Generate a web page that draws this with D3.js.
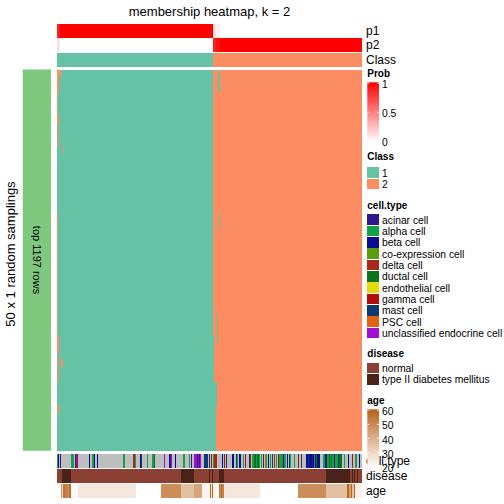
<!DOCTYPE html>
<html><head><meta charset="utf-8">
<script src="https://cdn.jsdelivr.net/npm/d3@7"></script>
<style>body{margin:0;background:#fff} text{font-family:"Liberation Sans",Arial,Helvetica,sans-serif;fill:#000}</style>
</head><body><svg id="c" width="504" height="504"></svg>
<script>
// ---------------- data ----------------
const nSamples = 305;
const nRuns = 50;
const classes = ["1", "2"];
const classColors = ["#66C2A5", "#FC8D62"];
// [startColumn, class]
const classSegments = [[0, 1], [156, 2]];
// [startColumn, probability of class 1]; p2 = 1 - p1
const p1Segments = [[0, 0.86], [2, 0.94], [3, 1], [156, 0.12], [159, 0.06], [163, 0]];
// [rowStart, rowEnd, colStart, colEnd, class] where a sampling disagrees
const membershipExceptions = [
  [0, 2, 0, 1, 2], [0, 0, 2, 3, 2], [3, 6, 0, 0, 2], [6, 8, 1, 1, 2], [9, 9, 2, 2, 2],
  [10, 10, 6, 6, 2], [19, 34, 0, 0, 2], [35, 36, 0, 1, 2], [37, 40, 1, 1, 2],
  [38, 38, 4, 5, 2], [44, 44, 0, 1, 2],
  [0, 2, 161, 162, 1], [19, 20, 162, 162, 1], [32, 35, 160, 160, 1],
  [35, 49, 156, 156, 1], [41, 43, 157, 159, 1], [43, 46, 157, 158, 1], [47, 49, 157, 158, 1]
];
const cellTypes = ["acinar cell", "alpha cell", "beta cell", "co-expression cell", "delta cell",
  "ductal cell", "endothelial cell", "gamma cell", "mast cell", "PSC cell", "unclassified endocrine cell"];
const cellTypeColors = ["#32168C", "#12A048", "#0C0C92", "#5A9C10", "#A8261A",
  "#0C7318", "#E6DA0C", "#B20E0E", "#0E3A70", "#E2620F", "#A010D0"];
const naColor = "#BEBEBE";
// [startColumn, cell type index or null]
const cellTypeSegments = [
  [0,1],[1,2],[2,null],[3,0],[4,null],[14,1],[17,null],[18,0],[19,10],[20,7],[21,null],
  [32,2],[33,null],[35,1],[37,2],[38,null],[40,2],[41,null],[66,1],[68,null],[76,4],[78,1],
  [79,null],[83,2],[84,8],[85,null],[90,1],[91,null],[95,1],[97,5],[98,null],[107,10],
  [108,null],[112,0],[114,10],[115,null],[118,2],[119,null],[126,1],[128,null],[132,1],
  [133,null],[134,0],[135,null],[137,10],[140,0],[141,10],[142,0],[143,10],[144,null],
  [147,8],[151,null],[152,8],[153,null],[154,7],[155,null],[156,1],[157,4],[160,null],
  [165,2],[166,null],[167,7],[168,null],[169,8],[170,null],[175,2],[177,null],[179,8],
  [180,1],[181,null],[182,2],[184,null],[186,1],[187,null],[188,7],[189,null],[192,8],
  [193,7],[194,null],[195,1],[197,5],[199,1],[200,5],[202,1],[203,null],[204,1],[205,null],
  [206,8],[207,null],[208,9],[209,1],[210,null],[211,2],[212,null],[213,1],[214,null],
  [215,8],[216,null],[217,4],[218,null],[219,1],[220,null],[221,7],[222,1],[226,2],[227,1],
  [229,null],[230,2],[231,null],[232,8],[233,1],[234,null],[237,1],[238,null],[241,7],
  [242,null],[244,8],[245,null],[249,2],[251,8],[252,2],[255,0],[256,2],[257,1],[258,2],
  [259,5],[260,2],[263,null],[266,1],[268,2],[270,1],[272,5],[273,1],[274,5],[275,1],
  [277,2],[278,1],[281,8],[282,5],[285,null],[287,1],[288,null],[291,2],[292,null],
  [295,7],[296,null],[298,1],[300,null],[302,2],[303,null]
];
const diseases = ["normal", "type II diabetes mellitus"];
const diseaseColors = ["#8B4033", "#4A2318"];
const diseaseSegments = [[0,0],[5,1],[14,0],[124,1],[137,0],[152,1],[153,0],[155,1],[156,0],
  [162,1],[167,0],[269,1],[293,0],[295,1],[296,0],[297,1],[298,0],[300,1],[301,0]];
// [startColumn, age]
const ageSegments = [[0,20],[4,47],[5,30],[6,55],[8,52],[11,47],[12,57],[14,21],[21,26],
  [79,20],[104,49],[124,36],[137,43],[145,23],[153,60],[154,23],[155,60],[156,23],[159,20],
  [162,56],[163,48],[164,58],[165,52],[167,26],[203,20],[241,49],[269,36],[290,59],[292,45],
  [294,60],[295,35],[297,60],[298,24]];
const ageTicks = [20, 30, 40, 50, 60];
const probTicks = [0, 0.5, 1];

// ---------------- helpers ----------------
function expand(segs, n) {
  const out = new Array(n);
  for (let i = 0; i < segs.length; i++) {
    const s = segs[i][0], e = i + 1 < segs.length ? segs[i + 1][0] : n;
    for (let j = s; j < e; j++) out[j] = segs[i][1];
  }
  return out;
}
function runs(values) {
  const r = [];
  let s = 0;
  for (let i = 1; i <= values.length; i++) {
    if (i === values.length || values[i] !== values[s]) { r.push({ s, e: i - 1, v: values[s] }); s = i; }
  }
  return r;
}

const svg = d3.select("#c");
const x = d3.scaleBand().domain(d3.range(nSamples)).range([57, 362]).padding(0);
const y = d3.scaleBand().domain(d3.range(nRuns)).range([69.5, 450.7]).padding(0);

function drawTrack(values, y0, h, color) {
  svg.append("g").selectAll("rect").data(runs(values)).join("rect")
    .attr("x", d => x(d.s)).attr("width", d => x(d.e) + x.bandwidth() - x(d.s))
    .attr("y", y0).attr("height", h)
    .attr("fill", d => color(d.v)).attr("shape-rendering", "crispEdges");
}

const probColor = d3.scaleLinear().domain([0, 1]).range(["#FFFFFF", "#FF0000"]);
const ageColor = d3.scaleLinear().domain([20, 60]).range(["#FFFFFF", "#B8621A"]);
const classColor = c => classColors[c - 1];

const colClass = expand(classSegments, nSamples);
const p1 = expand(p1Segments, nSamples);
const p2 = p1.map(v => 1 - v);
const cellType = expand(cellTypeSegments, nSamples);
const disease = expand(diseaseSegments, nSamples);
const age = expand(ageSegments, nSamples);

// membership matrix
const matrix = d3.range(nRuns).map(() => colClass.slice());
membershipExceptions.forEach(([r0, r1, c0, c1, v]) => {
  for (let r = r0; r <= r1; r++) for (let c = c0; c <= c1; c++) matrix[r][c] = v;
});

// title
svg.append("text").attr("x", 209.5).attr("y", 16).attr("text-anchor", "middle")
  .style("font-size", "13px").text("membership heatmap, k = 2");

// top annotations
drawTrack(p1, 24, 13.5, probColor);
drawTrack(p2, 38, 13.5, probColor);
drawTrack(colClass, 52.7, 14, classColor);
[["p1", 31], ["p2", 45], ["Class", 60]].forEach(([t, yy]) =>
  svg.append("text").attr("x", 366).attr("y", yy).attr("dy", "0.35em").style("font-size", "12px").text(t));

// main heatmap
matrix.forEach((row, i) => {
  svg.append("g").selectAll("rect").data(runs(row)).join("rect")
    .attr("x", d => x(d.s)).attr("width", d => x(d.e) + x.bandwidth() - x(d.s))
    .attr("y", y(i)).attr("height", y.bandwidth())
    .attr("fill", d => classColor(d.v)).attr("shape-rendering", "crispEdges");
});

// left row annotation
svg.append("rect").attr("x", 22.7).attr("y", 69.5).attr("width", 28.3).attr("height", 381.2).attr("fill", "#7FC97F");
svg.append("text").attr("transform", "translate(37,260) rotate(90)").attr("text-anchor", "middle")
  .attr("dy", "0.35em").style("font-size", "11px").text("top 1197 rows");
svg.append("text").attr("transform", "translate(10,254) rotate(-90)").attr("text-anchor", "middle")
  .attr("dy", "0.35em").style("font-size", "13px").text("50 x 1 random samplings");

// bottom annotations
drawTrack(cellType, 454, 14, v => v === null ? naColor : cellTypeColors[v]);
drawTrack(disease, 469, 14, v => diseaseColors[v]);
drawTrack(age, 484, 14, ageColor);
[["cell.type", 461], ["disease", 476], ["age", 491]].forEach(([t, yy]) =>
  svg.append("text").attr("x", 366).attr("y", yy).attr("dy", "0.35em").style("font-size", "12px").text(t));

// ---------------- legends ----------------
const lx = 367.3, bw = 11.7, tx = 382;
const defs = svg.append("defs");
function gradLegend(id, title, titleY, scale, color, ticks, fmt) {
  svg.append("text").attr("x", lx).attr("y", titleY).style("font-size", "10px").style("font-weight", "bold").text(title);
  const [a, b] = scale.range();
  const dom = scale.domain();
  const g = defs.append("linearGradient").attr("id", id).attr("x1", 0).attr("x2", 0).attr("y1", 1).attr("y2", 0);
  d3.range(11).forEach(i => {
    const v = dom[0] + (dom[1] - dom[0]) * i / 10;
    g.append("stop").attr("offset", i / 10).attr("stop-color", color(v));
  });
  svg.append("rect").attr("x", lx).attr("y", b - 1).attr("width", bw).attr("height", a - b + 2).attr("fill", `url(#${id})`);
  ticks.forEach(t => {
    const yy = scale(t);
    [[lx, lx + 2], [lx + bw - 2, lx + bw]].forEach(([x0, x1]) =>
      svg.append("line").attr("x1", x0).attr("x2", x1).attr("y1", yy).attr("y2", yy).attr("stroke", "#fff").attr("stroke-width", 0.8));
    svg.append("text").attr("x", tx).attr("y", yy + 1.5).attr("dy", "0.35em").style("font-size", "10.3px").text(fmt(t));
  });
}
function boxLegend(title, titleY, y0, labels, colors) {
  svg.append("text").attr("x", lx).attr("y", titleY).style("font-size", "10px").style("font-weight", "bold").text(title);
  const step = 11.33;
  labels.forEach((l, i) => {
    svg.append("rect").attr("x", lx).attr("y", y0 + i * step).attr("width", bw).attr("height", step - 0.6)
      .attr("fill", colors[i]).attr("shape-rendering", "crispEdges");
    svg.append("text").attr("x", tx).attr("y", y0 + i * step + step / 2).attr("dy", "0.35em").style("font-size", "10.3px").text(l);
  });
}
gradLegend("gProb", "Prob", 76.5, d3.scaleLinear().domain([0, 1]).range([141.3, 83.3]), probColor, probTicks, d => d3.format("")(d));
boxLegend("Class", 160, 167.3, classes, classColors);
boxLegend("cell.type", 208.5, 214.3, cellTypes, cellTypeColors);
boxLegend("disease", 356.5, 362.7, diseases, diseaseColors);
gradLegend("gAge", "age", 403.5, d3.scaleLinear().domain([20, 60]).range([466.5, 410.3]), ageColor, ageTicks, d => d);
</script></body></html>
